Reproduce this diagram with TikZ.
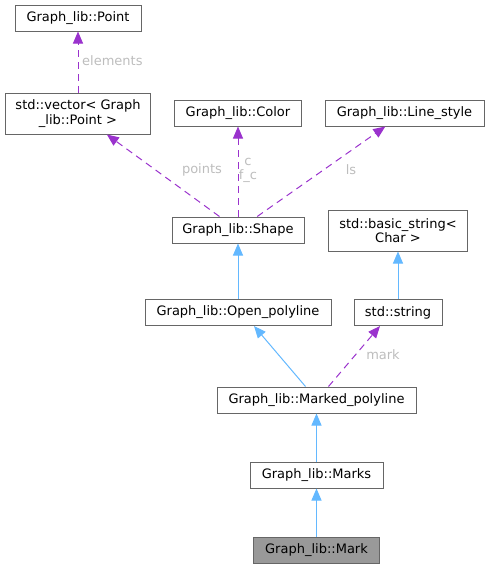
\documentclass[tikz,border=0pt]{standalone}
\usepackage{fontspec}
\setmainfont{DejaVu Sans}
\usetikzlibrary{positioning,arrows.meta}
\tikzset{
  cls/.style={rectangle, draw=boxline, fill=white, line width=1pt,
              minimum height=26pt, inner sep=2pt, align=center, font=\fontsize{13}{14.7}\selectfont},
  cur/.style={cls, fill=curfill},
  lbl/.style={font=\fontsize{13}{14.7}\selectfont, text=lblgray, inner sep=0pt, align=center},
  inh/.style={-{Triangle[length=12pt,width=10pt]}, line width=1pt, draw=inhblue},
  use/.style={-{Triangle[length=12pt,width=10pt]}, line width=1pt, draw=usepurple, dash pattern=on 7pt off 5pt},
}
\definecolor{boxline}{HTML}{666666}
\definecolor{curfill}{HTML}{999999}
\definecolor{lblgray}{HTML}{BDBDBD}
\definecolor{inhblue}{HTML}{63B8FF}
\definecolor{usepurple}{HTML}{9A32CD}
\begin{document}
\begin{tikzpicture}[x=1pt, y=-1pt]
    \useasboundingbox (0,0) rectangle (489,568);
    % classes
    \node[cls, minimum width=126pt] (point) at (78,18) {Graph\_lib::Point};
    \node[cls, minimum width=145pt, minimum height=41pt] (vec) at (78,113.5) {std::vector< Graph\\\_lib::Point >};
    \node[cls, minimum width=127pt] (color) at (238,113) {Graph\_lib::Color};
    \node[cls, minimum width=159pt] (lstyle) at (404.5,113) {Graph\_lib::Line\_style};
    \node[cls, minimum width=132pt] (shape) at (238,230) {Graph\_lib::Shape};
    \node[cls, minimum width=139pt, minimum height=41pt] (bstr) at (398,230.5) {std::basic\_string<\\Char >};
    \node[cls, minimum width=88pt] (str) at (398,312.5) {std::string};
    \node[cls, minimum width=186pt] (open) at (238,312.5) {Graph\_lib::Open\_polyline};
    \node[cls, minimum width=199pt] (mpoly) at (316.5,400) {Graph\_lib::Marked\_polyline};
    \node[cls, minimum width=133pt] (marks) at (316.5,475) {Graph\_lib::Marks};
    \node[cur, minimum width=126pt] (mark) at (316.5,550) {Graph\_lib::Mark};
    % member labels
    \node[lbl, anchor=west] (lelem) at (82,61) {elements};
    \node[lbl] (lpts) at (202,170) {points};
    \node[lbl] (lcol) at (248,170.5) {c\\f\_c};
    \node[lbl] (lls) at (351,170) {ls};
    \node[lbl] (lmark) at (383,355) {mark};
    % usage
    \draw[use] (vec) -- (point);
    \draw[use] (shape) -- (vec);
    \draw[use] (shape) -- (color);
    \draw[use] (shape) -- (lstyle);
    \draw[use] ([xshift=12pt]mpoly.north) -- ([xshift=-18pt]str.south);
    % inheritance
    \draw[inh] (open) -- (shape);
    \draw[inh] (str) -- (bstr);
    \draw[inh] ([xshift=-11pt]mpoly.north) -- ([xshift=16pt]open.south);
    \draw[inh] (marks) -- (mpoly);
    \draw[inh] (mark) -- (marks);
  \end{tikzpicture}
\end{document}
